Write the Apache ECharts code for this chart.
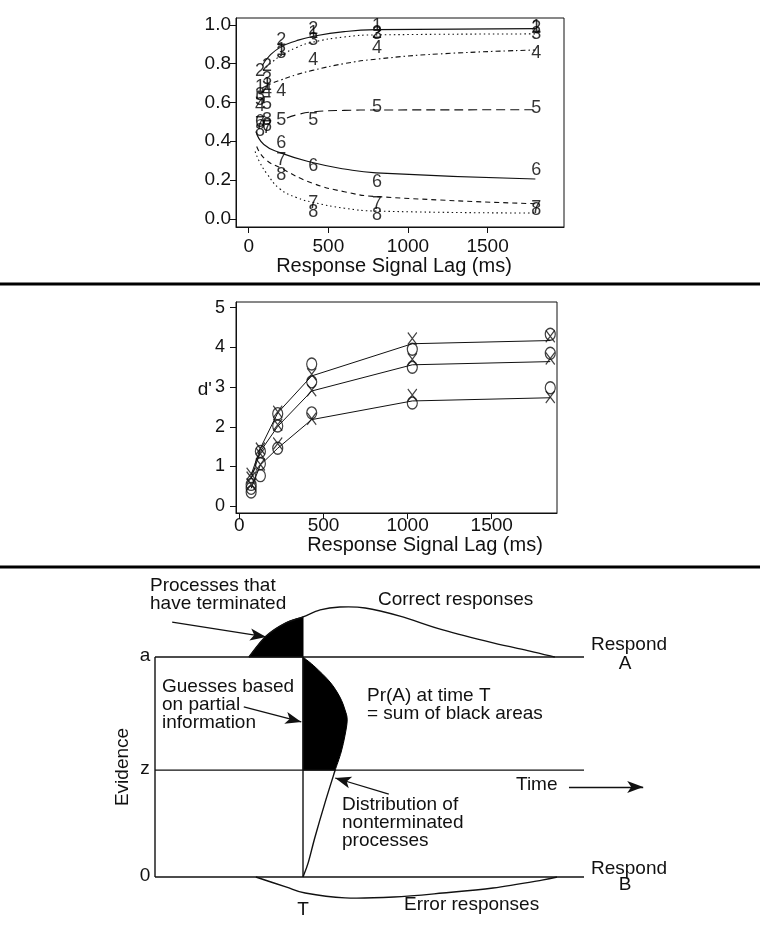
<!DOCTYPE html>
<html>
<head>
<meta charset="utf-8">
<script src="https://cdn.jsdelivr.net/npm/echarts@6/dist/echarts.min.js"></script>
<style>
html, body { margin: 0; padding: 0; background: #fff; }
#chart { width: 760px; height: 925px; }
</style>
</head>
<body>
<div id="chart"></div>
<script>
// ---------- top panel: response proportion by lag, conditions 1-8 ----------
const topLags = [70, 115, 205, 405, 805, 1805]
const resp1 = [0.68, 0.69, 0.87, 0.96, 0.995, 0.99]
const resp2 = [0.76, 0.79, 0.924, 0.976, 0.957, 0.985]
const resp3 = [0.64, 0.72, 0.855, 0.92, 0.95, 0.95]
const resp4 = [0.58, 0.66, 0.657, 0.82, 0.878, 0.855]
const resp5 = [0.61, 0.59, 0.51, 0.51, 0.574, 0.571]
const resp6 = [0.50, 0.48, 0.39, 0.27, 0.191, 0.253]
const resp7 = [0.49, 0.47, 0.304, 0.082, 0.078, 0.055]
const resp8 = [0.45, 0.51, 0.227, 0.037, 0.021, 0.047]
// fitted curves [lag, proportion]
const fit12 = [[85, 0.79], [130, 0.84], [200, 0.885], [300, 0.918], [400, 0.94], [600, 0.965], [800, 0.975], [1800, 0.98]]
const fit3 = [[90, 0.765], [150, 0.81], [200, 0.84], [300, 0.883], [400, 0.91], [600, 0.937], [800, 0.948], [1800, 0.953]]
const fit4 = [[85, 0.675], [150, 0.7], [200, 0.715], [300, 0.743], [400, 0.765], [600, 0.8], [800, 0.823], [1200, 0.85], [1800, 0.87]]
const fit5 = [[240, 0.52], [300, 0.536], [400, 0.551], [600, 0.559], [800, 0.561], [1800, 0.562]]
const fit6 = [[45, 0.45], [95, 0.383], [200, 0.34], [400, 0.29], [600, 0.257], [800, 0.237], [1800, 0.205]]
const fit7 = [[50, 0.373], [100, 0.31], [200, 0.262], [400, 0.184], [600, 0.14], [800, 0.115], [1800, 0.078]]
const fit8 = [[40, 0.347], [70, 0.29], [112, 0.235], [195, 0.155], [300, 0.11], [404, 0.085], [600, 0.055], [801, 0.04], [1800, 0.03]]
const topYTicks = [0, 0.2, 0.4, 0.6, 0.8, 1.0]
const lagTicks = [0, 500, 1000, 1500]

// ---------- middle panel: d' by lag ----------
const dLags = [70, 125, 228, 430, 1028, 1848]
const fitHi = [0.79, 1.46, 2.35, 3.28, 4.09, 4.17]
const fitMid = [0.7, 1.38, 2.01, 2.9, 3.56, 3.64]
const fitLo = [0.45, 1.04, 1.46, 2.18, 2.65, 2.73]
const xHi = [0.82, 1.45, 2.38, 3.32, 4.22, 4.28]
const xMid = [0.72, 1.32, 2.05, 2.92, 3.7, 3.72]
const xLo = [0.55, 1.05, 1.58, 2.2, 2.8, 2.75]
const oHi = [0.55, 1.38, 2.33, 3.58, 3.95, 4.33]
const oMid = [0.45, 1.07, 2.02, 3.13, 3.5, 3.85]
const oLo = [0.36, 0.77, 1.46, 2.35, 2.6, 2.98]
const dTicks = [0, 1, 2, 3, 4, 5]

// ---------- bottom panel: diagram, [time, evidence] with a = 1, 0 = 0 ----------
const timeT = 3.45
const levelZ = 0.486
const correctCurve = [[2.19, 1.0], [2.59, 1.095], [3.05, 1.155], [3.45, 1.182], [3.85, 1.214], [4.31, 1.227], [4.9, 1.223], [5.71, 1.186], [6.71, 1.123], [7.88, 1.064], [8.74, 1.027], [9.32, 1.0]]
const errorCurve = [[2.35, 0], [3.05, -0.045], [3.5, -0.073], [4.43, -0.095], [5.57, -0.091], [6.71, -0.073], [7.88, -0.05], [9.02, -0.014], [9.37, 0]]
const guessCurve = [[3.45, 1.0], [3.73, 0.955], [4.08, 0.886], [4.31, 0.818], [4.43, 0.759], [4.48, 0.714], [4.43, 0.645], [4.34, 0.568], [4.2, 0.486]]
const pendingCurve = [[4.2, 0.486], [3.96, 0.336], [3.73, 0.182], [3.57, 0.064], [3.45, 0]]
const arrows = [
  [[0.4, 1.159], [2.59, 1.091]],
  [[2.07, 0.773], [3.41, 0.705]],
  [[5.45, 0.377], [4.2, 0.45]],
  [[9.65, 0.409], [11.38, 0.409]]
]

const ink = '#111'
const font = 'Liberation Sans'

function pairs(xs, ys) {
  return xs.map((x, i) => [x, ys[i]])
}

function fitLine(data, dash) {
  return {
    type: 'line', xAxisIndex: 0, yAxisIndex: 0, data: data,
    smooth: 0.5, showSymbol: false, silent: true,
    lineStyle: { color: ink, width: 1.1, type: dash }
  }
}

function digits(name, ys) {
  return {
    type: 'scatter', xAxisIndex: 0, yAxisIndex: 0, data: pairs(topLags, ys),
    symbolSize: 1, itemStyle: { color: 'transparent' }, silent: true,
    label: { show: true, position: 'inside', formatter: name, fontSize: 18, color: '#000', textBorderWidth: 0, fontFamily: font }
  }
}

const xMark = 'path://M0,0L9,12M9,0L0,12'
function markers(ys, kind) {
  return {
    type: 'scatter', xAxisIndex: 1, yAxisIndex: 1, data: pairs(dLags, ys), silent: true,
    symbol: kind === 'x' ? xMark : 'circle',
    symbolSize: kind === 'x' ? [9, 12] : [10, 12],
    itemStyle: { color: 'none', borderColor: ink, borderWidth: 1.3 }
  }
}

// smooth outline through points (pixel coords)
function smoothPath(px) {
  let d = 'M' + px[0][0] + ' ' + px[0][1]
  for (let i = 0; i < px.length - 1; i++) {
    const p0 = px[i - 1] || px[i], p1 = px[i], p2 = px[i + 1], p3 = px[i + 2] || px[i + 1]
    const c1 = [p1[0] + (p2[0] - p0[0]) / 6, p1[1] + (p2[1] - p0[1]) / 6]
    const c2 = [p2[0] - (p3[0] - p1[0]) / 6, p2[1] - (p3[1] - p1[1]) / 6]
    d += ' C' + c1[0] + ' ' + c1[1] + ' ' + c2[0] + ' ' + c2[1] + ' ' + p2[0] + ' ' + p2[1]
  }
  return d
}

function shape(points, closing, filled) {
  return {
    type: 'custom', xAxisIndex: 2, yAxisIndex: 2, data: [0], silent: true, clip: false,
    renderItem: (params, api) => {
      let d = smoothPath(points.map(p => api.coord(p)))
      if (closing) {
        closing.forEach(p => {
          const c = api.coord(p)
          d += ' L' + c[0] + ' ' + c[1]
        })
        d += ' Z'
      }
      return {
        type: 'path', shape: { pathData: d },
        style: filled ? { fill: '#000', stroke: '#000', lineWidth: 1 } : { fill: 'none', stroke: ink, lineWidth: 1.4 }
      }
    }
  }
}

function rule(data) {
  return {
    type: 'line', xAxisIndex: 2, yAxisIndex: 2, data: data, clip: false,
    showSymbol: false, symbol: 'none', silent: true,
    lineStyle: { color: ink, width: 1.4 }
  }
}

function txt(text, x, y, align, extra) {
  return Object.assign({
    type: 'text', x: x, y: y, silent: true,
    style: { text: text, font: '19px "' + font + '"', fill: ink, align: align || 'left', verticalAlign: 'middle' }
  }, extra || {})
}

const chart = echarts.init(document.getElementById('chart'))

const axisText = { color: ink, fontFamily: font }
const plain = v => String(v)

chart.setOption({
  animation: false,
  backgroundColor: '#fff',
  textStyle: { fontFamily: font, color: ink },
  grid: [
    { left: 236, top: 18, width: 328, height: 209, show: true, borderColor: ink, borderWidth: 1 },
    { left: 236, top: 302, width: 321, height: 211, show: true, borderColor: ink, borderWidth: 1 },
    // diagram frame: time -1..12, evidence -0.2..1.3 (a line at 1, 0 line at 0)
    { left: 112.1, top: 591, width: 557.7, height: 330, show: false }
  ],
  xAxis: [
    {
      gridIndex: 0, type: 'value', min: -80, max: 1980,
      axisLine: { show: true, onZero: false, lineStyle: { color: ink } },
      splitLine: { show: false },
      axisTick: { length: 6, customValues: lagTicks, lineStyle: { color: ink } },
      axisLabel: Object.assign({ customValues: lagTicks, fontSize: 19, margin: 10, formatter: plain }, axisText),
      name: 'Response Signal Lag (ms)', nameLocation: 'middle', nameGap: 22,
      nameTextStyle: Object.assign({ fontSize: 20, padding: [0, 12, 0, 0] }, axisText)
    },
    {
      gridIndex: 1, type: 'value', min: -20, max: 1888,
      axisLine: { show: true, onZero: false, lineStyle: { color: ink } },
      splitLine: { show: false },
      axisTick: { length: 6, customValues: lagTicks, lineStyle: { color: ink } },
      axisLabel: Object.assign({ customValues: lagTicks, fontSize: 19, margin: 3, formatter: plain }, axisText),
      name: 'Response Signal Lag (ms)', nameLocation: 'middle', nameGap: 17,
      nameTextStyle: Object.assign({ fontSize: 20, padding: [0, 0, 0, 57] }, axisText)
    },
    { gridIndex: 2, type: 'value', min: -1, max: 12, show: false }
  ],
  yAxis: [
    {
      gridIndex: 0, type: 'value', min: -0.042, max: 1.035,
      axisLine: { show: true, onZero: false, lineStyle: { color: ink } },
      splitLine: { show: false },
      axisTick: { length: 6, customValues: topYTicks, lineStyle: { color: ink } },
      axisLabel: Object.assign({ customValues: topYTicks, fontSize: 19, margin: 5, formatter: v => v.toFixed(1) }, axisText)
    },
    {
      gridIndex: 1, type: 'value', min: -0.17, max: 5.14,
      axisLine: { show: true, onZero: false, lineStyle: { color: ink } },
      splitLine: { show: false },
      axisTick: { length: 6, customValues: dTicks, lineStyle: { color: ink } },
      axisLabel: Object.assign({ customValues: dTicks, fontSize: 18, margin: 11, formatter: plain }, axisText)
    },
    { gridIndex: 2, type: 'value', min: -0.2, max: 1.3, show: false }
  ],
  graphic: [
    { type: 'line', silent: true, shape: { x1: 0, y1: 284, x2: 760, y2: 284 }, style: { stroke: '#000', lineWidth: 3 } },
    { type: 'line', silent: true, shape: { x1: 0, y1: 567, x2: 760, y2: 567 }, style: { stroke: '#000', lineWidth: 3 } },
    txt("d'", 212, 390, 'right'),
    txt('Processes that', 150, 586),
    txt('have terminated', 150, 604),
    txt('Correct responses', 378, 600),
    txt('Respond', 591, 645),
    txt('A', 625, 664, 'center'),
    txt('Respond', 591, 869),
    txt('B', 625, 885, 'center'),
    txt('a', 145, 656, 'center'),
    txt('z', 145, 769, 'center'),
    txt('0', 145, 876, 'center'),
    txt('Evidence', 123, 767, 'center', { rotation: Math.PI / 2 }),
    txt('Guesses based', 162, 687),
    txt('on partial', 162, 705),
    txt('information', 162, 723),
    txt('Pr(A) at time T', 367, 696),
    txt('= sum of black areas', 367, 714),
    txt('Time', 516, 785),
    txt('Distribution of', 342, 805),
    txt('nonterminated', 342, 823),
    txt('processes', 342, 841),
    txt('T', 303, 910, 'center'),
    txt('Error responses', 404, 905)
  ],
  series: [
    fitLine(fit12, 'solid'),
    fitLine(fit3, [1.5, 3]),
    fitLine(fit4, [5, 3, 1.5, 3]),
    fitLine(fit5, [9, 5]),
    fitLine(fit6, 'solid'),
    fitLine(fit7, [5, 4]),
    fitLine(fit8, [1.5, 3]),
    digits('1', resp1), digits('2', resp2), digits('3', resp3), digits('4', resp4),
    digits('5', resp5), digits('6', resp6), digits('7', resp7), digits('8', resp8),

    ...[fitHi, fitMid, fitLo].map(ys => ({
      type: 'line', xAxisIndex: 1, yAxisIndex: 1, data: pairs(dLags, ys),
      showSymbol: false, silent: true, lineStyle: { color: ink, width: 1 }
    })),
    markers(xHi, 'x'), markers(xMid, 'x'), markers(xLo, 'x'),
    markers(oHi, 'o'), markers(oMid, 'o'), markers(oLo, 'o'),

    // diagram
    shape(correctCurve.slice(0, 4), [[timeT, 1]], true),
    shape(guessCurve, [[timeT, levelZ]], true),
    shape(correctCurve, null, false),
    shape(errorCurve, null, false),
    shape(pendingCurve, null, false),
    rule([[0, 1], [10, 1]]),
    rule([[0, levelZ], [10, levelZ]]),
    rule([[0, 0], [10, 0]]),
    rule([[0, 0], [0, 1]]),
    Object.assign(rule([[timeT, 0], [timeT, 1]]), {
      markLine: {
        silent: true, animation: false, symbol: ['none', 'arrow'], symbolSize: [9, 16],
        label: { show: false }, lineStyle: { type: 'solid', color: ink, width: 1.3 },
        emphasis: { disabled: true },
        data: arrows.map(a => [{ coord: a[0] }, { coord: a[1] }])
      }
    })
  ]
})
</script>
</body>
</html>
